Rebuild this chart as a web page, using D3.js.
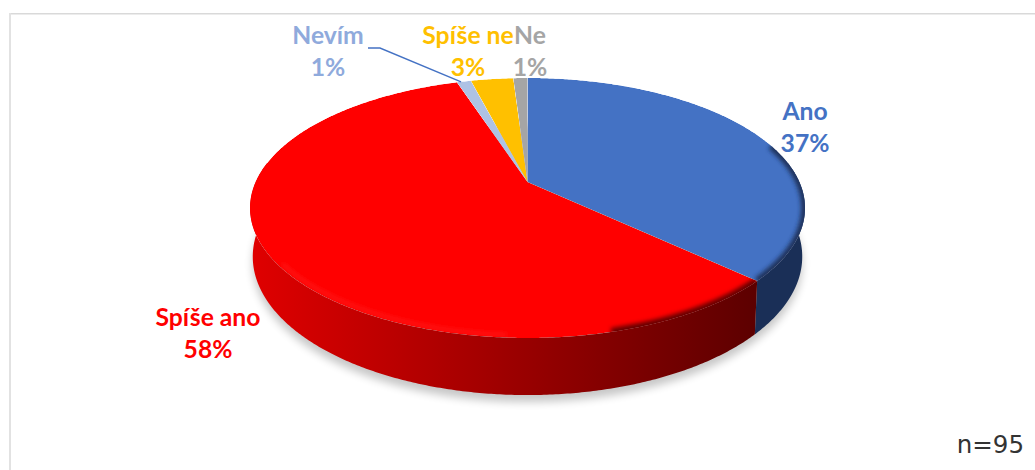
<!DOCTYPE html>
<html>
<head>
<meta charset="utf-8">
<script src="https://cdn.jsdelivr.net/npm/d3@7"></script>
<style>
html,body{margin:0;padding:0;background:#fff;}
svg{display:block;}
text{font-family:Lato,"Open Sans",sans-serif;font-weight:700;font-size:24.7px;}
</style>
</head>
<body>
<svg id="chart" width="1035" height="470"></svg>
<script>
// Survey answers, clockwise from twelve o'clock
const categories = ["Ano", "Spíše ano", "Nevím", "Spíše ne", "Ne"];
const shares = [37, 58, 1, 3, 1];
const faceColors = ["#4472c4", "#ff0000", "#aec2e4", "#ffc000", "#a5a5a5"];
const labelColors = ["#4472c4", "#ff0000", "#8faadc", "#ffc000", "#a5a5a5"];
const wallStops = [
  ["#1a2f57", "#1a2f57"],
  ["#e00000", "#5c0000"],
  ["#6f83a8", "#6f83a8"],
  ["#a07800", "#a07800"],
  ["#6a6a6a", "#6a6a6a"]
];
const labelAnchors = [[805, 120], [208, 326], [328, 44], [468, 44], [530, 44]];
const sampleSize = "n=95";

const svg = d3.select("#chart");
const defs = svg.append("defs");

// Perspective disc: apex of the pie, horizontal and vertical reach, tilt strength
const apex = {x: 527.5, y: 182};
const reachX = 271.9, reachY = 124.8, tilt = 0.2;
const depth = 46.9, baseScale = 0.99;

function project(angle, radius, level) {
  const u = radius * Math.sin(angle), v = -radius * Math.cos(angle);
  const w = 1 - tilt * v;
  const s = level ? baseScale : 1;
  return [
    apex.x + s * reachX * u / w,
    apex.y + (level ? depth / w : 0) + s * reachY * v / w
  ];
}

const pieLayout = d3.pie().sort(null).value(d => d)(shares);
const lineGen = d3.line();
const closed = d3.line().curve(d3.curveLinearClosed);
const angleStep = Math.PI / 360;
const arcAngles = (a, b) => d3.range(a, b, angleStep).concat([b]);

// Filters for the ground shadow and the soft rim of the bevel
defs.append("filter").attr("id", "groundBlur")
  .attr("x", "-10%").attr("y", "-10%").attr("width", "120%").attr("height", "120%")
  .append("feGaussianBlur").attr("stdDeviation", 4.5);
defs.append("filter").attr("id", "rimBlur")
  .attr("filterUnits", "userSpaceOnUse")
  .attr("x", 200).attr("y", 40).attr("width", 660).attr("height", 360)
  .append("feGaussianBlur").attr("stdDeviation", 2.2);

// Chart frame
svg.append("line").attr("x1", 10).attr("x2", 1035).attr("y1", 13.8).attr("y2", 13.8)
  .attr("stroke", "#d9d9d9").attr("stroke-width", 1.6);
svg.append("line").attr("x1", 10).attr("x2", 10).attr("y1", 13).attr("y2", 470)
  .attr("stroke", "#e2e2e2").attr("stroke-width", 2);

// Ground shadow
const fullTurn = arcAngles(0, 2 * Math.PI);
svg.append("path")
  .attr("d", closed(fullTurn.map(a => project(a, 1, 1))))
  .attr("transform", "translate(0,7)")
  .attr("fill", "#000").attr("opacity", 0.22)
  .attr("filter", "url(#groundBlur)");

// Side walls, limited to the part of the rim that faces the viewer
const wallFrom = Math.PI * 0.45, wallTo = Math.PI * 1.55;
const wallLayer = svg.append("g");
pieLayout.forEach((slice, i) => {
  const a0 = Math.max(slice.startAngle, wallFrom), a1 = Math.min(slice.endAngle, wallTo);
  if (a1 <= a0) return;
  const id = "wall" + i;
  const xs = arcAngles(a0, a1).map(a => project(a, 1, 0)[0]);
  const grad = defs.append("linearGradient").attr("id", id)
    .attr("gradientUnits", "userSpaceOnUse")
    .attr("x1", d3.min(xs)).attr("x2", d3.max(xs)).attr("y1", 0).attr("y2", 0);
  grad.append("stop").attr("offset", 0).attr("stop-color", wallStops[i][0]);
  grad.append("stop").attr("offset", 1).attr("stop-color", wallStops[i][1]);
  const angles = arcAngles(a0, a1);
  const outline = angles.map(a => project(a, 1, 0))
    .concat(angles.slice().reverse().map(a => project(a, 1, 1)));
  wallLayer.append("path").attr("d", closed(outline)).attr("fill", `url(#${id})`);
});

// Top faces with a soft rim clipped inside each slice
const faceLayer = svg.append("g");
function rim(group, from, to, radius, color, width, opacity) {
  group.append("path")
    .attr("d", lineGen(arcAngles(from, to).map(a => project(a, radius, 0))))
    .attr("fill", "none").attr("stroke", color).attr("stroke-width", width)
    .attr("stroke-opacity", opacity).attr("filter", "url(#rimBlur)");
}
pieLayout.forEach((slice, i) => {
  const angles = arcAngles(slice.startAngle, slice.endAngle);
  const ring = angles.map(a => project(a, 1, 0));
  const outline = [[apex.x, apex.y]].concat(ring);
  const clipId = "face" + i;
  defs.append("clipPath").attr("id", clipId)
    .append("path").attr("d", closed(outline));
  const group = faceLayer.append("g").attr("clip-path", `url(#${clipId})`);
  group.append("path").attr("d", closed(outline)).attr("fill", faceColors[i]);
  if (i === 0) {
    rim(group, Math.PI * 0.4, slice.endAngle, 1, "#1a2f57", 8, 0.95);
  }
  if (i === 1) {
    rim(group, slice.startAngle, Math.PI * 0.92, 1, "#5c0000", 8, 0.95);
    rim(group, Math.PI * 1.02, Math.PI * 1.3, 0.985, "#ff3a3a", 2.5, 0.5);
  }
});

// Leader line for the smallest slice on the left
const nevim = pieLayout[2];
const leaderEnd = project(nevim.startAngle + 0.3 * (nevim.endAngle - nevim.startAngle), 1, 0);
svg.append("path")
  .attr("d", lineGen([[368, 48], [380, 48], leaderEnd]))
  .attr("fill", "none").attr("stroke", "#4472c4").attr("stroke-width", 1.4);

// Two-line data labels
categories.forEach((name, i) => {
  const [x, y] = labelAnchors[i];
  const label = svg.append("text").attr("text-anchor", "middle").attr("fill", labelColors[i]);
  label.append("tspan").attr("x", x).attr("y", y).text(name);
  label.append("tspan").attr("x", x).attr("y", y + 32).text(shares[i] + "%");
});

// Sample size note
svg.append("text").attr("x", 1024).attr("y", 453).attr("text-anchor", "end")
  .style("font-family", "'DejaVu Sans'").style("font-weight", 400).style("font-size", "24.5px")
  .attr("fill", "#333333").text(sampleSize);
</script>
</body>
</html>
